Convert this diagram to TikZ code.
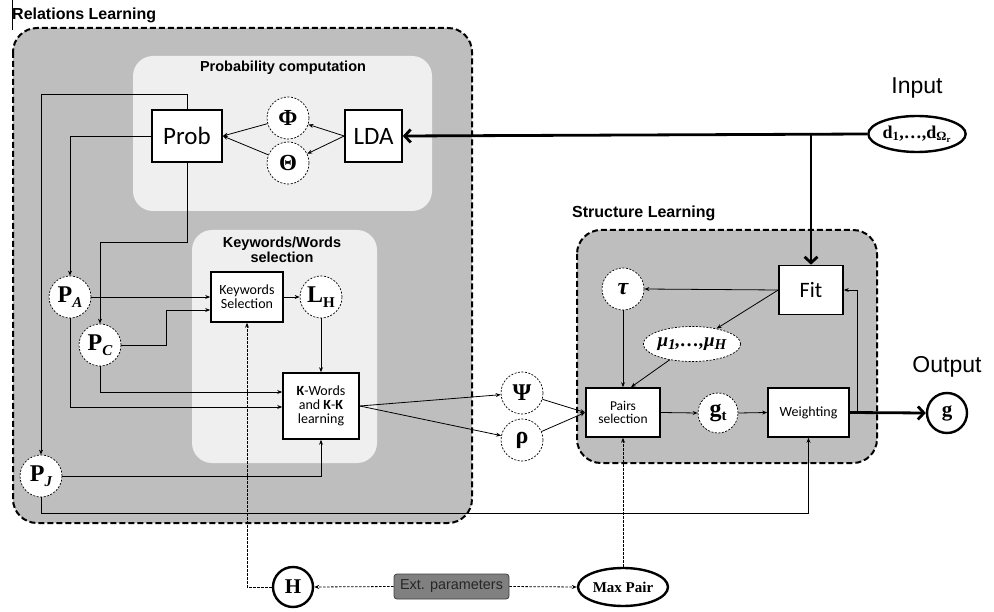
\documentclass[tikz,border=0pt]{standalone}
\usepackage{fontspec}
\setmainfont{Liberation Serif}
\newfontfamily\arialf{Liberation Sans}
\newfontfamily\calf{Carlito}
\usetikzlibrary{arrows.meta,shapes.geometric,calc}
\definecolor{outergray}{HTML}{BEBEBE}
\definecolor{innergray}{HTML}{EFEFEF}
\definecolor{extgray}{HTML}{808080}
\newcommand\fsz[1]{\fontsize{#1}{#1}\selectfont}
\newcommand\lsub[2]{\lower#1\hbox{\fsz{15}#2}}
\begin{document}
\begin{tikzpicture}[x=1pt,y=-1pt,
  box/.style={draw, line width=1.6pt, fill=white, inner sep=0pt, align=center, font=\calf\fsz{14}},
  var/.style={circle, draw, dash pattern=on 2pt off 1.5pt, line width=0.7pt, fill=white, minimum size=42pt, inner sep=0pt, font=\bfseries\fsz{22}},
  bold var/.style={circle, draw, line width=2.4pt, fill=white, minimum size=40pt, inner sep=0pt, font=\bfseries\fsz{21}},
  conn/.style={line width=0.8pt, -{Stealth[length=5pt,width=4pt]}},
  dconn/.style={line width=0.8pt, dash pattern=on 2.5pt off 1.5pt, -{Stealth[length=5pt,width=4pt]}},
  bigconn/.style={line width=2.8pt, -{Straight Barb[length=6pt,width=13pt]}},
  groupbox/.style={draw, line width=2pt, dash pattern=on 6pt off 3pt, fill=outergray, rounded corners=24pt},
  lightbox/.style={fill=innergray, rounded corners=20pt},
  title/.style={font=\arialf\bfseries\fsz{14.5}, align=center, inner sep=0pt},
  bigtitle/.style={font=\arialf\bfseries\fsz{16}, inner sep=0pt, anchor=west},
  iolabel/.style={font=\arialf\fsz{23}, inner sep=0pt}
]
\path[use as bounding box] (0,0) rectangle (994,612);

% containers
\draw[line width=0.6pt] (12,0) -- (12,30);
\node[bigtitle] (reltitle) at (12,15) {Relations Learning};
\path[groupbox] (13,28) rectangle (472,523);
\path[lightbox] (133,56) rectangle (432,211);
\node[title] (probtitle) at (283,68) {Probability computation};
\path[lightbox] (192,230) rectangle (377,463);
\node[title] (kwtitle) at (282,250) {Keywords/Words\\[1pt]selection};

\node[bigtitle] (structtitle) at (572,213) {Structure Learning};
\path[groupbox] (577,230) rectangle (877,463);

% probability computation
\node[box, minimum width=70pt, minimum height=52pt, font=\calf\fsz{25}] (Prob) at (187,136) {Prob};
\node[box, minimum width=57pt, minimum height=52pt, font=\calf\fsz{25}] (LDA) at (373.5,136) {LDA};
\node[var, font=\bfseries\fsz{23}] (phi) at (288,118) {Φ};
\node[var, font=\bfseries\fsz{23}] (theta) at (288,163) {Θ};

% input
\node[iolabel] (inlabel) at (917,88) {Input};
\node[ellipse, draw, line width=2.4pt, fill=white, minimum width=66pt, minimum height=36pt, inner sep=0pt, font=\bfseries\fsz{18}] (din) at (917,134) {d\textsubscript{1},…,d\textsubscript{Ω\textsubscript{r}}};

% P nodes
\node[var, font=\bfseries\fsz{24}] (PA) at (70,297) {P\lsub{5pt}{\itshape A}};
\node[var, font=\bfseries\fsz{24}] (PC) at (100,345) {P\lsub{5pt}{\itshape C}};
\node[var, font=\bfseries\fsz{24}] (PJ) at (41,476) {P\lsub{5pt}{\itshape J}};

% keyword selection
\node[box, minimum width=72pt, minimum height=50pt] (KS) at (247,297) {Keywords\\Selection};
\node[var, font=\bfseries\fsz{24}] (LH) at (321,297) {L\lsub{5pt}{H}};
\node[box, minimum width=76pt, minimum height=66pt] (KW) at (321,406) {\textbf{K}-Words\\and \textbf{K}-\textbf{K}\\learning};

\node[var, font=\bfseries\fsz{24}] (psi) at (522,393) {Ψ};
\node[var, font=\bfseries\fsz{24}] (rho) at (522,440) {ρ};

% structure learning
\node[box, minimum width=64pt, minimum height=49pt, font=\calf\fsz{22}] (Fit) at (811,290) {Fit};
\node[var, font=\bfseries\itshape\fsz{24}] (tau) at (623,289) {τ};
\node[ellipse, draw, dash pattern=on 2pt off 1.5pt, line width=0.7pt, fill=white, minimum width=85pt, minimum height=35pt, inner sep=0pt, font=\bfseries\itshape\fsz{19}] (mu) at (692,344) {μ\lsub{3pt}{1},…,μ\lsub{3pt}{H}};
\node[box, minimum width=74pt, minimum height=49pt, font=\calf\fsz{13.5}] (PS) at (623,412.5) {Pairs\\selection};
\node[var, minimum size=40pt, font=\bfseries\fsz{24}] (gt) at (718,413) {g\lsub{4pt}{t}};
\node[box, minimum width=81pt, minimum height=49pt] (WT) at (808.5,412.5) {Weighting};

% output
\node[iolabel] (outlabel) at (947,367) {Output};
\node[bold var] (gout) at (947,413) {g};

% external parameters
\node[bold var] (Hnode) at (293,587) {H};
\node[draw=black!75, line width=0.8pt, fill=extgray, rounded corners=3pt, minimum width=115pt, minimum height=25pt, inner sep=0pt, font=\arialf\fsz{14.4}, text=black!85] (ext) at (451.5,586.5) {Ext. parameters};
\node[ellipse, draw, line width=2.4pt, fill=white, minimum width=90pt, minimum height=38pt, inner sep=0pt, font=\bfseries\fsz{15}] (MP) at (623,587) {Max Pair};

% helper coordinates
\coordinate (split) at (811,134);
\coordinate (bot) at (0,513);

% connectors: probability computation
\draw[conn] (LDA.west) -- (phi);
\draw[conn] (LDA.west) -- (theta);
\draw[conn] (phi) -- (Prob.east);
\draw[conn] (theta) -- (Prob.east);
\draw[bigconn] (din.west) -- (LDA.east);
\draw[bigconn] (split) -- (Fit.north);

% Prob to P nodes
\draw[conn] (Prob.north) -- ++(0,-15) -| (PJ.north);
\draw[conn] (Prob.west) -| (PA.north);
\draw[conn] (Prob.south) -- ++(0,80) -| (PC.north);

% keyword section
\draw[conn] (PA.east) -- (KS.west);
\draw[conn] (PC.east) -- ++(45,0) |- ($(KS.west)+(0,13)$);
\draw[conn] (KS.east) -- (LH.west);
\draw[conn] (LH.south) -- (KW.north);
\draw[conn] (PC.south) |- ($(KW.west)+(0,-14)$);
\draw[conn] (PA.south) |- ($(KW.west)+(0,1)$);
\draw[conn] (PJ.east) -| (KW.south);
\draw[conn] (PJ.south) -- (PJ.south |- bot) -| (WT.south);
\draw[conn] (KW.east) -- (psi);
\draw[conn] (KW.east) -- (rho);
\draw[conn] (psi) -- (PS.west);
\draw[conn] (rho) -- (PS.west);

% structure learning
\draw[conn] (Fit.west) -- (tau.east);
\draw[conn] (Fit.west) -- (mu);
\draw[conn] (tau.south) -- (PS.north);
\draw[conn] (mu) -- ($(PS.north)+(8,0)$);
\draw[conn] (PS.east) -- (gt.west);
\draw[conn] (gt.east) -- (WT.west);
\draw[bigconn] (WT.east) -- (gout.west);
\draw[conn] ($(WT.east)+(8,0)$) |- (Fit.east);

% external parameters
\draw[dconn] (ext.west) -- (Hnode.east);
\draw[dconn] (ext.east) -- (MP.west);
\draw[dconn] (Hnode.west) -| (KS.south);
\draw[dconn] (MP.north) -- (PS.south);
\end{tikzpicture}
\end{document}
